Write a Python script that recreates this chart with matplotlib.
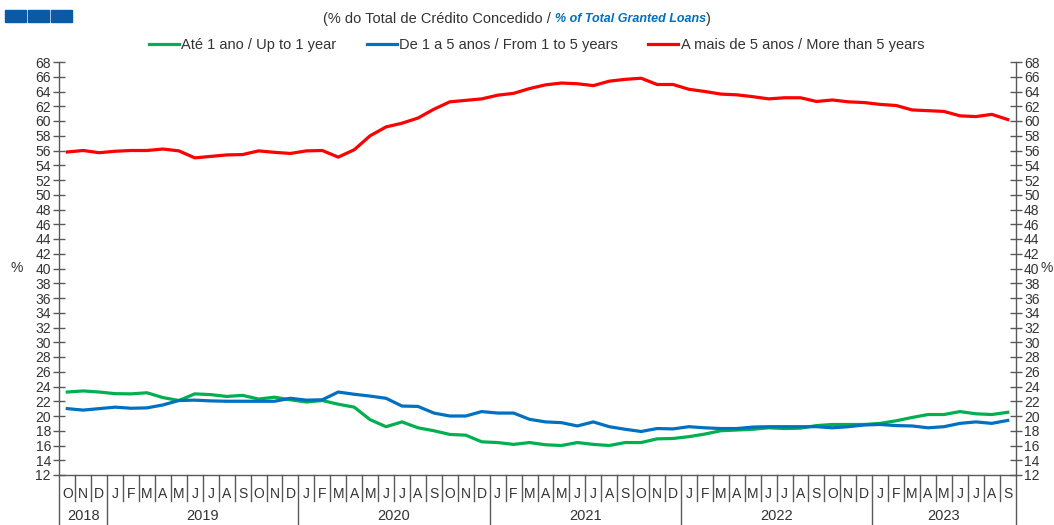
import matplotlib
matplotlib.use("Agg")
import matplotlib.pyplot as plt
from matplotlib.patches import Rectangle
import matplotlib.transforms as mtransforms

plt.rcParams['font.family'] = ['Liberation Sans', 'DejaVu Sans']

month_letters = ['J', 'F', 'M', 'A', 'M', 'J', 'J', 'A', 'S', 'O', 'N', 'D']
years = ['2018', '2019', '2020', '2021', '2022', '2023']
months_per_year = [3, 12, 12, 12, 12, 9]
first_month_index = 9  # October 2018

up_to_1 = [23.25, 23.4, 23.25, 23.03, 23.0, 23.15, 22.5, 22.1, 23.0, 22.9,
           22.65, 22.8, 22.3, 22.55, 22.2, 21.9, 22.1, 21.6, 21.2, 19.5,
           18.55, 19.2, 18.4, 18.0, 17.5, 17.4, 16.5, 16.4, 16.15, 16.4,
           16.1, 16.0, 16.4, 16.15, 16.0, 16.4, 16.4, 16.9, 16.95, 17.2,
           17.55, 18.0, 18.1, 18.2, 18.4, 18.3, 18.35, 18.7, 18.85, 18.85,
           18.85, 19.0, 19.35, 19.8, 20.2, 20.2, 20.6, 20.3, 20.2, 20.5]
one_to_5 = [21.0, 20.8, 21.0, 21.2, 21.05, 21.1, 21.5, 22.1, 22.15, 22.05,
            22.0, 22.0, 22.0, 22.0, 22.4, 22.15, 22.2, 23.25, 22.95, 22.7,
            22.4, 21.35, 21.3, 20.4, 20.0, 20.0, 20.6, 20.4, 20.4, 19.55,
            19.2, 19.1, 18.65, 19.2, 18.55, 18.2, 17.9, 18.3, 18.25, 18.55,
            18.4, 18.3, 18.3, 18.5, 18.55, 18.55, 18.55, 18.55, 18.4, 18.55,
            18.78, 18.85, 18.7, 18.65, 18.4, 18.55, 19.0, 19.2, 19.0, 19.4]
more_5 = [55.8, 56.0, 55.7, 55.9, 56.0, 56.0, 56.2, 55.95, 55.0, 55.2,
          55.4, 55.45, 55.95, 55.75, 55.6, 55.95, 56.0, 55.1, 56.1, 58.0,
          59.2, 59.7, 60.4, 61.6, 62.6, 62.8, 63.0, 63.5, 63.75, 64.4,
          64.9, 65.15, 65.05, 64.8, 65.4, 65.65, 65.8, 64.95, 64.95, 64.3,
          64.0, 63.65, 63.55, 63.3, 63.0, 63.15, 63.15, 62.65, 62.85, 62.6,
          62.5, 62.25, 62.1, 61.5, 61.4, 61.3, 60.7, 60.6, 60.9, 60.2]

series_labels = ['Até 1 ano / Up to 1 year',
                 'De 1 a 5 anos / From 1 to 5 years',
                 'A mais de 5 anos / More than 5 years']
series_colors = ['#00B050', '#0070C0', '#FF0000']

n = len(up_to_1)
x = list(range(n))
month_labels = [month_letters[(first_month_index + i) % 12] for i in range(n)]

W, H = 1054, 525
fig = plt.figure(figsize=(W / 100, H / 100), dpi=100)
left, right, bottom, top = 59.3, 1015.7, 475, 62
ax = fig.add_axes([left / W, 1 - bottom / H, (right - left) / W, (bottom - top) / H])

txt_color = '#333333'
axis_color = '#595959'
lw = 2.3
lines = []
for vals, lab, col in zip([up_to_1, one_to_5, more_5], series_labels, series_colors):
    l, = ax.plot(x, vals, color=col, lw=lw, label=lab, solid_joinstyle='round')
    lines.append(l)

ax.set_xlim(-0.5, n - 0.5)
ax.set_ylim(12, 68)
ax.set_yticks(range(12, 69, 2))
ax.tick_params(axis='y', which='both', direction='inout', length=8, width=1,
               color=axis_color, labelsize=10, labelcolor=txt_color, pad=2,
               left=True, right=True, labelleft=True, labelright=True)
ax.spines['top'].set_visible(False)
for s in ['left', 'right', 'bottom']:
    ax.spines[s].set_color(axis_color)
    ax.spines[s].set_linewidth(1)

ax.set_xticks(x)
ax.set_xticklabels(month_labels)
ax.tick_params(axis='x', length=0, labelsize=10, labelcolor=txt_color, pad=9)

# separators under the axis
trans = mtransforms.blended_transform_factory(ax.transData, ax.transAxes)
axis_h = bottom - top
month_sep = -(501 - bottom) / axis_h
year_sep = -(530 - bottom) / axis_h
year_starts = [0]
for m in months_per_year:
    year_starts.append(year_starts[-1] + m)
for k in range(n + 1):
    yb = year_sep if k in year_starts else month_sep
    ax.plot([k - 0.5, k - 0.5], [0, yb], transform=trans, color=axis_color,
            lw=1, clip_on=False)
for yr, s, m in zip(years, year_starts[:-1], months_per_year):
    ax.text(s - 0.5 + m / 2, -(516 - bottom) / axis_h, yr, transform=trans,
            ha='center', va='center', fontsize=10.5, color=txt_color)

# % labels
fig.text(17 / W, 1 - 268 / H, '%', ha='center', va='center', fontsize=10, color=txt_color)
fig.text(1053 / W, 1 - 268 / H, '%', ha='right', va='center', fontsize=10, color=txt_color)

# legend
fig.legend(handles=lines, loc='center', bbox_to_anchor=(536.5 / W, 1 - 45 / H),
           ncol=3, frameon=False, fontsize=10.5, handlelength=2.06,
           handletextpad=0.14, columnspacing=2.1, labelcolor=txt_color)

# header squares
for i in range(3):
    fig.patches.append(Rectangle(((5 + i * 23) / W, 1 - 22 / H), 21 / W, 12 / H,
                                 transform=fig.transFigure, color='#0A5AA5'))

# title in parts
renderer = fig.canvas.get_renderer()
t1 = fig.text(323 / W, 1 - 19 / H, '(% do Total de Crédito Concedido / ',
              fontsize=10.5, color=txt_color, va='center', ha='left')
bb = t1.get_window_extent(renderer)
t2 = fig.text(bb.x1 / W, 1 - 19 / H, '% of Total Granted Loans', fontsize=9,
              color='#0070C0', style='italic', weight='bold', va='center', ha='left')
bb2 = t2.get_window_extent(renderer)
fig.text(bb2.x1 / W, 1 - 19 / H, ')', fontsize=10.5, color=txt_color,
         va='center', ha='left')

fig.savefig('out.png', dpi=100)
